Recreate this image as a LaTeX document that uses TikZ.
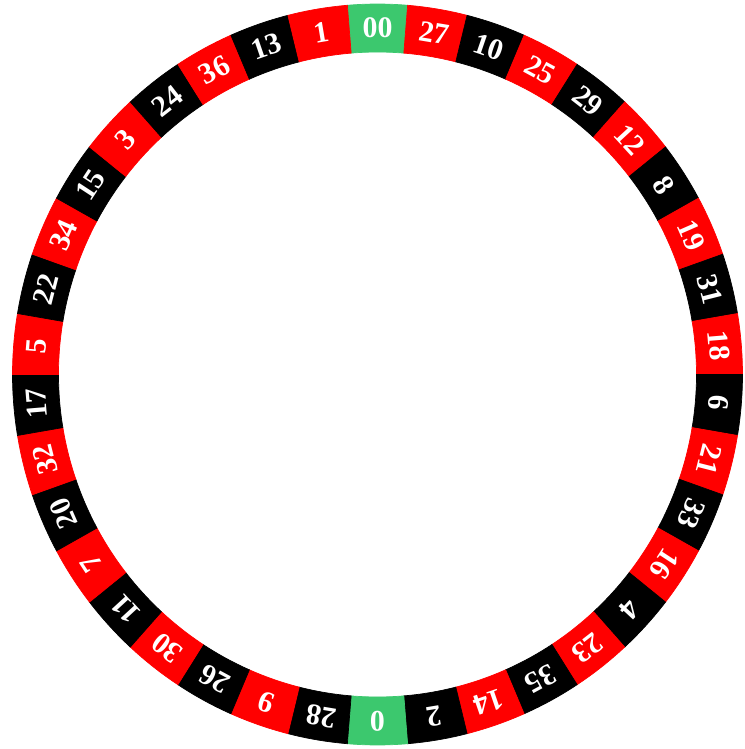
\documentclass[tikz,border=0pt]{standalone}
\usepackage{fontspec}
\setmainfont{Liberation Serif}
\usetikzlibrary{calc}
\definecolor{pktred}{HTML}{FF0000}
\definecolor{pktblack}{HTML}{000000}
\definecolor{pktgreen}{HTML}{3CC86E}
\tikzset{
  pocket/.style = {line width=0.4pt},
  numlab/.style = {text=white, font=\fontsize{17}{17}\selectfont\bfseries,
                   inner sep=0pt, anchor=center},
}
% wheel radii (cm), slightly oval like the original
\newcommand{\rxo}{7.30}
\newcommand{\ryo}{7.41}
\newcommand{\rxi}{6.38}
\newcommand{\ryi}{6.45}
\newcommand{\rxm}{6.85}
\newcommand{\rym}{6.93}

\begin{document}
\begin{tikzpicture}
  \useasboundingbox (-7.55,-7.49) rectangle (7.33,7.49);
  % ---------------- pockets, clockwise from the top ----------------
  \foreach \num/\col [count=\i from 0] in {
      00/pktgreen, 27/pktred, 10/pktblack, 25/pktred, 29/pktblack,
      12/pktred, 8/pktblack, 19/pktred, 31/pktblack, 18/pktred,
      6/pktblack, 21/pktred, 33/pktblack, 16/pktred, 4/pktblack,
      23/pktred, 35/pktblack, 14/pktred, 2/pktblack, 0/pktgreen,
      28/pktblack, 9/pktred, 26/pktblack, 30/pktred, 11/pktblack,
      7/pktred, 20/pktblack, 32/pktred, 17/pktblack, 5/pktred,
      22/pktblack, 34/pktred, 15/pktblack, 3/pktred, 24/pktblack,
      36/pktred, 13/pktblack, 1/pktred}{
    \pgfmathsetmacro{\a}{90-\i*360/38}
    \pgfmathsetmacro{\aa}{\a+180/38}
    \pgfmathsetmacro{\ab}{\a-180/38}
    \filldraw[pocket, fill=\col, draw=\col]
      ({\rxo*cos(\aa)},{\ryo*sin(\aa)})
        arc[start angle=\aa, end angle=\ab, x radius=\rxo cm, y radius=\ryo cm]
      -- ({\rxi*cos(\ab)},{\ryi*sin(\ab)})
        arc[start angle=\ab, end angle=\aa, x radius=\rxi cm, y radius=\ryi cm]
      -- cycle;
    \node[numlab, rotate=\a-90] (p\num) at ({\rxm*cos(\a)},{\rym*sin(\a)}) {\num};
  }
\end{tikzpicture}
\end{document}
